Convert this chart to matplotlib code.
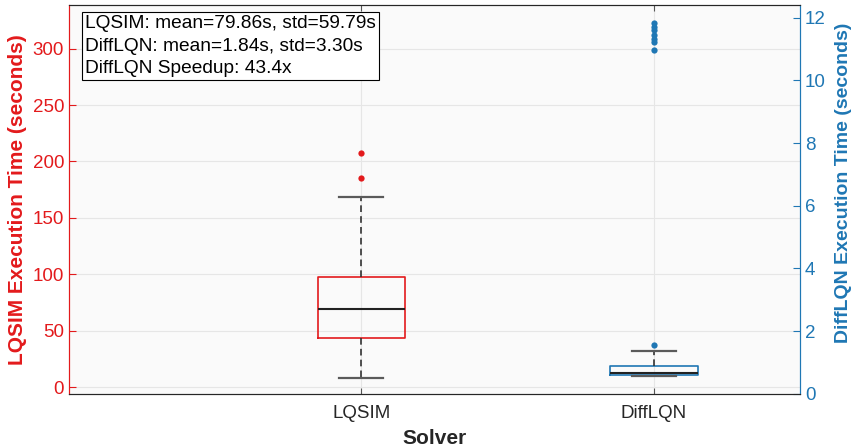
import matplotlib
matplotlib.use('Agg')
import matplotlib.pyplot as plt

plt.rcParams['font.family'] = ['Liberation Sans', 'DejaVu Sans']

solvers = ['LQSIM', 'DiffLQN']

# Box statistics (seconds)
lqsim_q1, lqsim_med, lqsim_q3 = 43.6, 69.0, 97.3
lqsim_whislo, lqsim_whishi = 8.2, 168.4
lqsim_fliers = [185.6, 207.3]

difflqn_q1, difflqn_med, difflqn_q3 = 0.61, 0.66, 0.90
difflqn_whislo, difflqn_whishi = 0.55, 1.37
difflqn_fliers = [1.56, 10.98, 11.22, 11.32, 11.45, 11.60, 11.72, 11.85]

lqsim_mean, lqsim_std = 79.86, 59.79
difflqn_mean, difflqn_std = 1.84, 3.30

RED = '#e31a1c'
BLUE = '#1f77b4'


def make_stats(q1, med, q3, lo, hi, fliers):
    return dict(q1=q1, med=med, q3=q3, whislo=lo, whishi=hi, fliers=fliers)


def draw_box(axis, stats, pos, color):
    axis.bxp([stats], positions=[pos], widths=0.3, capwidths=0.15,
             boxprops=dict(color=color, linewidth=1.2),
             medianprops=dict(color='#222222', linewidth=1.5),
             whiskerprops=dict(color='#333333', linewidth=1.2, linestyle=(0, (4, 2.5))),
             capprops=dict(color='#5a5a5a', linewidth=1.6),
             flierprops=dict(marker='o', markerfacecolor=color, markeredgecolor='none',
                             markersize=4.5))


fig = plt.figure(figsize=(8.57, 4.47), dpi=100)
ax = fig.add_axes([0.0805, 0.1192, 0.853, 0.8696])
ax2 = ax.twinx()

ax.set_facecolor('#fafafa')
ax2.patch.set_visible(False)

draw_box(ax, make_stats(lqsim_q1, lqsim_med, lqsim_q3, lqsim_whislo, lqsim_whishi, lqsim_fliers), 1, RED)
draw_box(ax2, make_stats(difflqn_q1, difflqn_med, difflqn_q3, difflqn_whislo, difflqn_whishi, difflqn_fliers), 2, BLUE)

ax.set_xlim(0, 2.5)
ax.set_ylim(-5.9, 338.7)
ax2.set_ylim(0, 12.41)

ax.set_xticks([1, 2])
ax.set_xticklabels(solvers)
ax.set_yticks(range(0, 301, 50))
ax2.set_yticks(range(0, 13, 2))

ax.grid(True, color='#e6e6e6', linewidth=0.8)
ax.set_axisbelow(True)

ax.tick_params(axis='x', direction='in', top=True, length=4, color='#555555',
               labelsize=13.5, labelcolor='#262626', pad=8)
ax.tick_params(axis='y', direction='in', length=5, color=RED, labelcolor=RED, labelsize=13.5)
ax2.tick_params(axis='y', direction='in', length=5, color=BLUE, labelcolor=BLUE, labelsize=13.5)

for spine in ('top', 'bottom'):
    ax.spines[spine].set_color('#262626')
    ax2.spines[spine].set_color('#262626')
ax.spines['left'].set_color(RED)
ax2.spines['left'].set_color(RED)
ax2.spines['right'].set_color(BLUE)
ax.spines['right'].set_color(BLUE)

ax.set_xlabel('Solver', fontsize=15, fontweight='bold', color='#262626', labelpad=5)
ax.set_ylabel('LQSIM Execution Time (seconds)', fontsize=15, fontweight='bold', color=RED, labelpad=4)
ax2.set_ylabel('DiffLQN Execution Time (seconds)', fontsize=14, fontweight='bold', color=BLUE)
ax2.yaxis.set_label_coords(1.048, 0.542)

speedup = lqsim_mean / difflqn_mean
summary = (f'LQSIM: mean={lqsim_mean:.2f}s, std={lqsim_std:.2f}s\n'
           f'DiffLQN: mean={difflqn_mean:.2f}s, std={difflqn_std:.2f}s\n'
           f'DiffLQN Speedup: {speedup:.1f}x')
ax.text(0.022, 0.974, summary, transform=ax.transAxes, fontsize=13.8, va='top', ha='left',
        linespacing=1.42, color='black', zorder=10,
        bbox=dict(boxstyle='square,pad=0.15', facecolor='white', edgecolor='black', linewidth=0.8))

fig.savefig('out.png', dpi=100)
